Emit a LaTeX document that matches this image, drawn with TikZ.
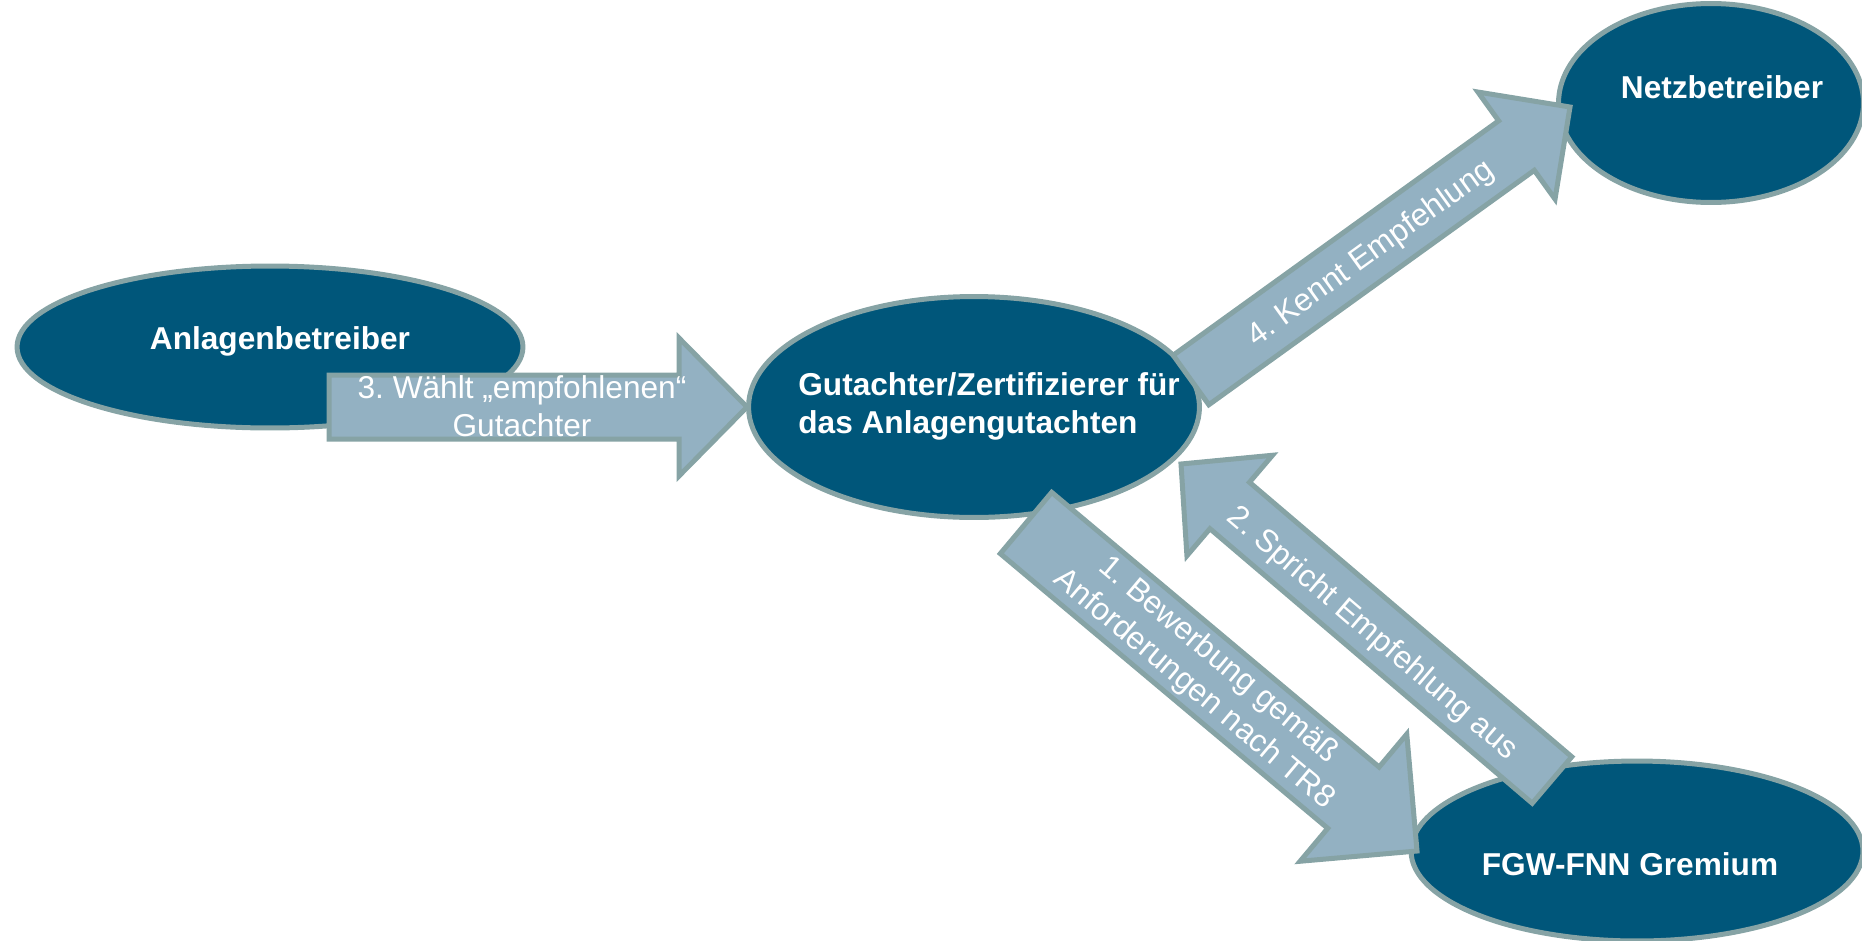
\documentclass[tikz,border=0pt]{standalone}
\usepackage{fontspec}
\setmainfont{Liberation Sans}
\frenchspacing
\usetikzlibrary{shapes.geometric,calc}
\definecolor{partyblue}{RGB}{0,86,122}
\definecolor{rimgray}{RGB}{134,163,165}
\definecolor{flowblue}{RGB}{147,177,194}
\newcommand\blockarrow[5]{%
  \coordinate (hb) at ($(#2)!#5!(#1)$);
  \draw[flow] ($(#1)!#3!90:(#2)$) -- ($(hb)!#3!90:(#2)$) -- ($(hb)!#4!90:(#2)$) -- (#2)
    -- ($(hb)!#4!-90:(#2)$) -- ($(hb)!#3!-90:(#2)$) -- ($(#1)!#3!-90:(#2)$) -- cycle;}
\begin{document}
\begin{tikzpicture}[x=0.02cm, y=-0.02cm,
    party/.style={ellipse, draw=rimgray, fill=partyblue, line width=0.1cm, inner sep=0pt},
    flow/.style={draw=rimgray, fill=flowblue, line width=0.1cm},
    partytext/.style={text=white, font=\bfseries\fontsize{18}{21.5}\selectfont, inner sep=0pt},
    flowtext/.style={text=white, font=\fontsize{18}{21.5}\selectfont, align=center, inner sep=0pt}]
      \useasboundingbox (0,0) rectangle (1862,940);
      \node[party, minimum width=10.12cm, minimum height=3.24cm] (betreiber) at (270,347) {};
      \node[party, minimum width=9.02cm, minimum height=4.42cm] (gutachter) at (974,407) {};
      \node[party, minimum width=6.1cm, minimum height=3.98cm] (netz) at (1711,103) {};
      \node[party, minimum width=9.04cm, minimum height=3.6cm] (fgw) at (1637,851) {};
      \coordinate (a3s) at (329,407);   \coordinate (a3e) at (747,407);
      \coordinate (a4s) at (1191,380);  \coordinate (a4e) at (1570,107);
      \coordinate (a1s) at (1026,523);  \coordinate (a1e) at (1417,851);
      \coordinate (a2s) at (1552,780);  \coordinate (a2e) at (1181,464);
      \blockarrow{a3s}{a3e}{0.64cm}{1.38cm}{1.36cm}
      \blockarrow{a4s}{a4e}{0.61cm}{1.32cm}{1.32cm}
      \blockarrow{a1s}{a1e}{0.80cm}{1.66cm}{1.66cm}
      \blockarrow{a2s}{a2e}{0.61cm}{1.32cm}{1.28cm}
      \node[partytext, anchor=base] (betreibertext) at (280,349) {Anlagenbetreiber};
      \node[partytext, anchor=base] (netztext) at (1722,98) {Netzbetreiber};
      \node[partytext, anchor=base] (fgwtext) at (1630,875) {FGW-FNN Gremium};
      \node[partytext, anchor=west, align=left] (gutachtertext) at (798,406)
        {Gutachter/Zertifizierer für\\das Anlagengutachten};
      \node[flowtext] (a3text) at (522,406) {3. Wählt „empfohlenen“\\Gutachter};
      \node[flowtext, rotate=35.8] (a4text) at (1371,254) {4. Kennt Empfehlung};
      \node[flowtext, rotate=-40] (a1text) at (1206,675) {1. Bewerbung gemäß\\Anforderungen nach TR8};
      \node[flowtext, rotate=-40.5] (a2text) at (1372,634) {2. Spricht Empfehlung aus};
    \end{tikzpicture}
\end{document}
